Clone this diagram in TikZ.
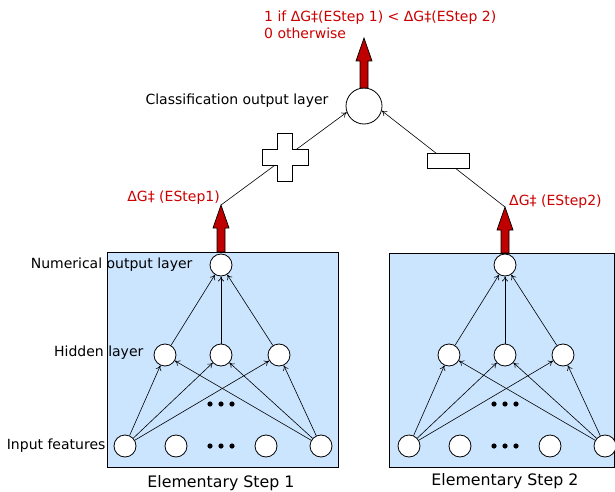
\documentclass[tikz,border=0pt]{standalone}
\usepackage{fontspec}
\setmainfont{DejaVu Sans}
\usetikzlibrary{arrows.meta, positioning}

\definecolor{boxblue}{RGB}{204,229,255}
\definecolor{dgred}{RGB}{190,0,0}
\definecolor{txtred}{RGB}{204,0,0}

% fat red arrow: x, y of base, y of tip
\newcommand\fatarrow[3]{%
  \filldraw[fill=dgred, line width=0.7pt]
    (#1-4,#2) -- (#1-4,#3+23) -- (#1-8,#3+23) -- (#1,#3)
    -- (#1+8,#3+23) -- (#1+4,#3+23) -- (#1+4,#2) -- cycle;}

\begin{document}
\begin{tikzpicture}[x=1pt, y=-1pt,
neuron/.style = {circle, draw, fill=white, minimum size=22pt, inner sep=0pt, line width=0.8pt},
 panel/.style = {draw, fill=boxblue, line width=0.6pt},
   lbl/.style = {font=\fontsize{14}{17}\selectfont, inner sep=1pt},
 redlbl/.style = {lbl, text=txtred},
 title/.style = {font=\fontsize{15.8}{18}\selectfont},
  link/.style = {-{To[length=5pt, width=6pt]}, line width=0.6pt},
  sign/.style = {draw, fill=white, line width=0.8pt}
                        ]
\useasboundingbox (0,0) rectangle (615,492);
% panels
\filldraw[panel] (107,252) rectangle (338,467);
\filldraw[panel] (389,253) rectangle (614.5,467);
%
\foreach \px/\n in {221/1, 505/2}{
  \node (out\n) [neuron] at (\px,265) {};
  \foreach \i/\dx in {1/-56, 2/0, 3/58}
    \node (h\n-\i) [neuron] at (\px+\dx,355) {};
  \foreach \i/\dx in {1/-96, 2/-45, 3/45, 4/100}
    \node (in\n-\i) [neuron] at (\px+\dx,446) {};
  \foreach \dx in {-11,0,11}{
    \fill (\px+\dx,404) circle (2.6);
    \fill (\px+\dx,446) circle (2.6);}
  \foreach \i in {1,2,3}{
    \draw[link] (h\n-\i) -- (out\n);
    \draw[link] (in\n-1) -- (h\n-\i);
    \draw[link] (in\n-4) -- (h\n-\i);}
}
%
\node[title] at (221,483) {Elementary Step 1};
\node[title] at (505,481) {Elementary Step 2};
\node[lbl, left=16pt of out1] {Numerical output layer};
\node[lbl, left=9pt of h1-1, yshift=2pt] {Hidden layer};
\node[lbl, left=7pt of in1-1] {Input features};
%
\fatarrow{221}{252}{205}
\fatarrow{505}{253}{207}
\coordinate (tip1) at (221,205);
\coordinate (tip2) at (505,207);
\node[redlbl, anchor=south east] at ([yshift=-1pt] tip1) {ΔG‡ (EStep1)};
\node[redlbl, anchor=west] at ([xshift=3pt, yshift=5pt] tip2) {ΔG‡ (EStep2)};
%
\node (cls) [neuron, minimum size=36pt] at (364,106) {};
\node[lbl, left=16pt of cls, yshift=5pt] {Classification output layer};
\fatarrow{364}{88}{38}
\node[redlbl, align=left, anchor=west] at (263,24.5)
  {1 if ΔG‡(EStep 1) < ΔG‡(EStep 2)\\[0pt] 0 otherwise};
%
\draw[link] (tip1) -- coordinate[pos=0.51] (plusc) (cls.200);
\draw[link] (tip2) -- coordinate[pos=0.46] (minusc) (cls.-15);
\draw[sign, shift={(plusc)}]
  (-7.5,-24) -- (7.5,-24) -- (7.5,-8) -- (23,-8) -- (23,8) -- (7.5,8)
  -- (7.5,24) -- (-7.5,24) -- (-7.5,8) -- (-23,8) -- (-23,-8) -- (-7.5,-8) -- cycle;
\node (minus) [sign, minimum width=42pt, minimum height=15pt, inner sep=0pt,
       yshift=2pt] at (minusc) {};
\end{tikzpicture}
\end{document}
